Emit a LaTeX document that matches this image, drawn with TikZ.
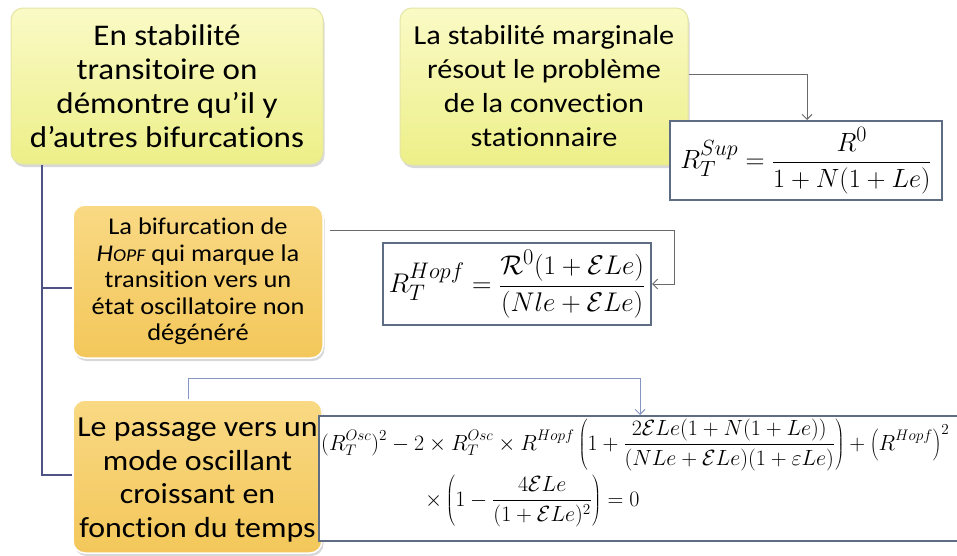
\documentclass[tikz,border=0pt]{standalone}
\usepackage{fontspec}
\setmainfont{Carlito}[Ligatures=NoCommon, FakeStretch=1.1]
\usetikzlibrary{shadows,arrows.meta}
\definecolor{yelT}{HTML}{FAFAC6}
\definecolor{yelB}{HTML}{EDEF88}
\definecolor{yelD}{HTML}{E4E6A6}
\definecolor{orT}{HTML}{F9D984}
\definecolor{orB}{HTML}{F3C75A}
\definecolor{frm}{HTML}{5E6D84}
\definecolor{treec}{HTML}{4E5383}
\definecolor{arrg}{HTML}{6A6A6A}
\definecolor{arrb}{HTML}{8595C4}
\begin{document}
\begin{tikzpicture}[x=1pt,y=-1pt,
  ybox/.style={rectangle, rounded corners=12pt, top color=yelT, bottom color=yelB,
    draw=yelD, line width=1pt, align=center, inner sep=0pt,
    drop shadow={shadow xshift=1.5pt,shadow yshift=-3pt,opacity=0.3}},
  obox/.style={rectangle, rounded corners=12pt, top color=orT, bottom color=orB,
    draw=white, line width=1.5pt, align=center, inner sep=0pt,
    drop shadow={shadow xshift=1.5pt,shadow yshift=-3pt,opacity=0.3}},
  btext/.style={inner sep=0pt, align=center},
  fbox/.style={rectangle, fill=white, draw=frm, line width=2pt, inner sep=0pt},
  treeline/.style={draw=treec, line width=2.2pt},
  garrow/.style={draw=arrg, line width=1pt, -{Straight Barb[length=5pt,width=10pt]}},
  barrow/.style={draw=arrb, line width=1pt, -{Straight Barb[length=5pt,width=10pt]}},
  ftext/.style={inner sep=0pt, font=\fontsize{24.88}{30}\selectfont},
  otext/.style={inner sep=0pt, anchor=base west, scale=1.06, font=\fontsize{20.74}{24}\selectfont}
]
\useasboundingbox (0,0) rectangle (957,555);
\fill[white] (0,0) rectangle (957,555);
\clip (0,0) rectangle (957,555);

% boxes
\node[ybox, minimum width=312pt, minimum height=156pt, font=\fontsize{30}{34}\selectfont] (b1) at (167,86)
  {En stabilité\\transitoire on\\démontre qu’il y\\d’autres bifurcations};
\node[ybox, minimum width=288pt, minimum height=157pt, font=\fontsize{27.5}{34}\selectfont] (b2) at (544,86.5)
  {La stabilité marginale\\résout le problème\\de la convection\\stationnaire};
\node[obox, minimum width=250pt, minimum height=153pt, font=\fontsize{24}{26.5}\selectfont] (b3) at (198,281.5)
  {La bifurcation de\\{\itshape H{\fontsize{18}{20}\selectfont OPF}} qui marque la\\transition vers un\\état oscillatoire non\\dégénéré};
\node[obox, minimum width=249pt, minimum height=153pt] (b4) at (197.5,476.5) {};
\node[btext, font=\fontsize{29}{33.5}\selectfont] (b4t) at ([yshift=-3.5pt]b4.center)
  {Le passage vers un\\mode oscillant\\croissant en\\fonction du temps};

% formula boxes
\node[fbox, minimum width=272pt, minimum height=79pt] (sup) at (806,160.5) {};
\node[ftext, scale=1.06] (supf) at (sup.center)
  {$\displaystyle R_T^{Sup} = \frac{R^0}{1+N(1+Le)}$};
\node[fbox, minimum width=268pt, minimum height=82pt] (hopf) at (517,284) {};
\node[ftext, scale=1.085] (hopff) at (hopf.center)
  {$\displaystyle R_T^{Hopf} = \frac{\mathcal{R}^0(1+\mathcal{E}Le)}{(Nle+\mathcal{E}Le)}$};
\node[fbox, minimum width=700pt, minimum height=125pt, anchor=north west] (osc) at (318,415) {};
\node[otext] (osc1) at (321,450)
  {$\displaystyle (R_T^{Osc})^2 - 2\times R_T^{Osc}\times R^{Hopf}\left(1+\frac{2\mathcal{E}Le\bigl(1+N(1+Le)\bigr)}{(NLe+\mathcal{E}Le)(1+\varepsilon Le)}\right)+\left(R^{Hopf}\right)^2$};
\node[otext] (osc2) at (425,506)
  {$\displaystyle \times\left(1-\frac{4\mathcal{E}Le}{(1+\mathcal{E}Le)^2}\right)=0$};

% tree
\coordinate (tx) at (42,0);
\draw[treeline] (b1.south -| tx) -- ([yshift=1.5pt]b4.west -| tx) -- ([yshift=1.5pt]b4.west);
\draw[treeline] ([yshift=-6.5pt]b3.west -| tx) -- ([yshift=-6.5pt]b3.west);

% arrows
\coordinate (s1) at (807,74);
\draw[garrow] (b2.east |- s1) -- (s1) -- (sup.north -| s1);
\coordinate (h1) at (674,230);
\draw[garrow] ([xshift=6pt]b3.east |- h1) -- (h1) -- (h1 |- hopf.east) -- (hopf.east);
\coordinate (o1) at (188,378);
\coordinate (o2) at (640,378);
\draw[barrow] (b4.north -| o1) -- (o1) -- (o2) -- (osc.north -| o2);
\end{tikzpicture}
\end{document}
